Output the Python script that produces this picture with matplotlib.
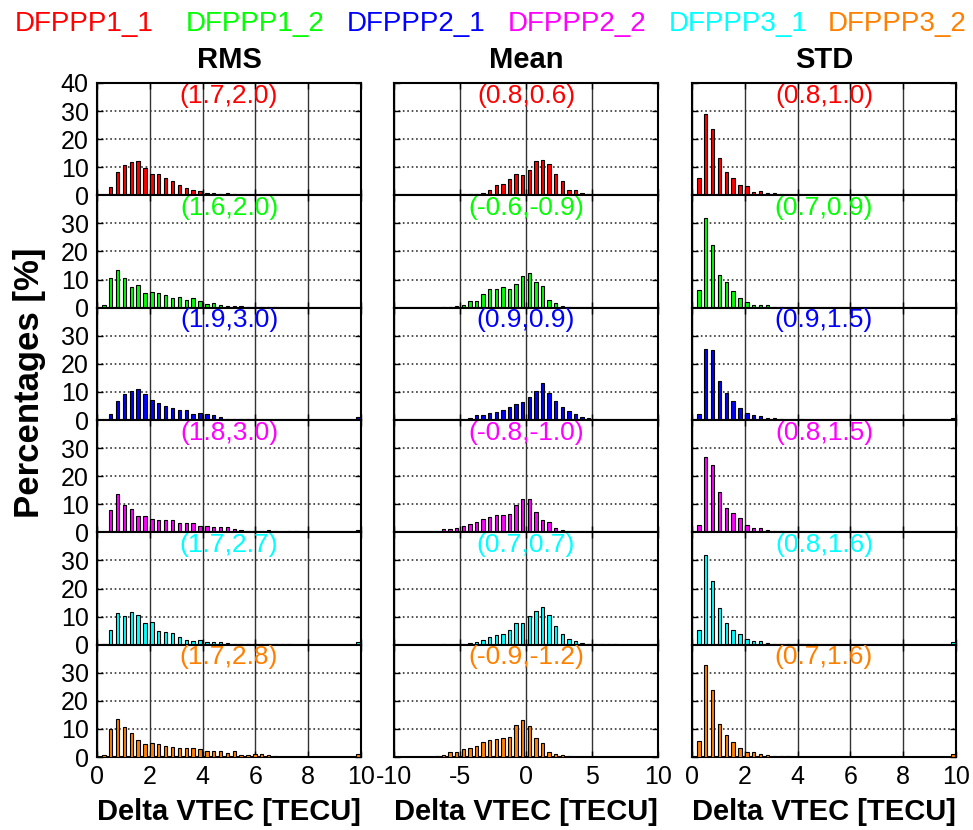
import matplotlib
matplotlib.use("Agg")
import matplotlib.pyplot as plt
import numpy as np

plt.rcParams.update({
    "font.family": ["Liberation Sans", "DejaVu Sans"],
    "axes.unicode_minus": False,
    "axes.linewidth": 1.5,
    "xtick.direction": "in",
    "ytick.direction": "in",
    "xtick.top": True,
    "ytick.right": True,
    "xtick.major.size": 4,
    "ytick.major.size": 4,
})

# ---------------------------------------------------------------------------
# Data (percent per bin)
# ---------------------------------------------------------------------------
solutions = ["DFPPP1_1", "DFPPP1_2", "DFPPP2_1", "DFPPP2_2", "DFPPP3_1", "DFPPP3_2"]
colors = ["#ff0000", "#00ff00", "#0000ff", "#ff00ff", "#00ffff", "#ff8000"]
panel_titles = ["RMS", "Mean", "STD"]

# RMS histogram, bins of 0.26 TECU starting at 0.26
rms_11 = [0, 3.1, 8.2, 10.9, 11.7, 12.1, 9.6, 7.7, 7.7, 6.2, 5.1, 3.6, 2.5, 1.8,
          1.4, 0.9, 0.9, 0.6, 0.7, 0.35, 0.2, 0.2, 0.2, 0.1, 0.1, 0.1, 0.1, 0.1]
rms_12 = [0.8, 10.5, 13.4, 10.5, 7.5, 8.0, 5.1, 5.6, 5.3, 4.5, 3.5, 3.8, 2.6, 3.4,
          2.4, 1.2, 1.5, 0.9, 0.6, 0.6, 0.6, 0.2, 0.2, 0.1, 0.1, 0.1]
rms_21 = [0, 2.2, 6.7, 9.1, 10.3, 11.0, 9.3, 7.2, 6.0, 5.0, 4.3, 3.6, 3.6, 2.2,
          2.5, 2.1, 1.8, 1.2, 0.5, 0.5, 0.5, 0.5, 0.2, 0.1, 0.15, 0.1, 0.1, 0.1,
          0.1, 0.1, 0.1, 0.1, 0.1, 0.1, 0.1, 0.1, 0.1]
rms_22 = [0, 8.0, 13.7, 9.6, 8.4, 5.7, 5.7, 4.7, 4.5, 4.3, 4.3, 3.2, 3.2, 3.2,
          2.4, 2.1, 1.9, 1.8, 1.8, 1.3, 0.8, 0.6, 0.6, 0.6, 1.0, 0.5, 0.2, 0.5,
          0.5, 0.1, 0.1, 0.1, 0.2]
rms_31 = [0.1, 5.3, 11.1, 10.3, 11.8, 10.4, 7.8, 7.9, 4.9, 4.5, 4.1, 2.8, 1.8,
          1.3, 1.7, 1.1, 1.1, 0.8, 0.5, 0.4, 0.4, 0.3, 0.1, 0.1, 0.1, 0.1, 0.1, 0.1]
rms_32 = [0.8, 9.9, 13.4, 10.7, 8.6, 6.2, 4.7, 5.1, 4.5, 4.0, 3.7, 3.1, 3.1, 3.3,
          3.0, 2.0, 2.2, 2.0, 1.5, 2.0, 0.8, 0.8, 1.1, 1.1, 0.6, 0.3, 0.1, 0.1,
          0.1, 0.1, 0.1, 0.1]
rms_edge = [0, 0, 1.1, 1.0, 1.0, 1.2]

# Mean histogram, bins of 0.5 TECU, first listed bin centred at -7.75
mean_11 = [0, 0, 0, 0.05, 0.1, 0.1, 0.3, 0.3, 0.4, 0.9, 2.0, 3.7, 3.9, 5.8, 7.5,
           7.2, 8.9, 12.4, 12.7, 11.0, 7.5, 5.0, 1.9, 1.9, 0.8, 0.3, 0.2, 0.1]
mean_12 = [0, 0, 0, 0.1, 0.1, 0.6, 0.8, 2.5, 2.5, 4.9, 6.5, 6.5, 7.5, 6.6, 8.6,
           11.4, 12.5, 9.3, 7.6, 2.7, 1.8, 0.6, 0.1]
mean_21 = [0, 0, 0, 0.1, 0.1, 0.4, 0.1, 0.7, 1.7, 1.8, 2.4, 3.0, 3.7, 4.5, 5.8,
           6.4, 8.3, 10.3, 13.3, 9.6, 6.7, 4.7, 3.2, 2.2, 1.2, 0.6, 0.4, 0.1, 0.1,
           0.05, 0.05, 0.05]
mean_22 = [0, 0.1, 0.2, 1.1, 1.1, 1.5, 2.1, 3.1, 3.8, 4.6, 5.3, 6.0, 6.0, 6.6,
           9.8, 11.7, 12.0, 7.3, 4.4, 3.6, 1.5, 0.8, 0.1]
mean_31 = [0, 0, 0, 0.1, 0, 0.1, 0, 0.6, 0.8, 1.8, 2.7, 3.4, 3.7, 5.1, 7.6, 7.6,
           10.1, 12.1, 13.4, 10.4, 6.6, 3.8, 2.0, 1.4, 0.7, 0.2, 0.2, 0.1, 0.1, 0.1]
mean_32 = [0.1, 0.1, 0.2, 0.7, 1.7, 1.9, 2.8, 3.3, 3.9, 5.2, 6.0, 6.3, 6.9, 7.2,
           11.4, 13.1, 10.9, 6.6, 4.9, 1.9, 1.2, 0.6, 0.3]
mean_edge = [0, 0, 0.4, 0, 0.2, 0]

# STD histogram, same bins as RMS
std_11 = [6.2, 28.8, 23.7, 13.3, 8.4, 6.0, 3.6, 3.2, 1.1, 1.4, 0.7, 0.7, 0.3,
          0.1, 0.1, 0.1, 0.1, 0.1, 0.1]
std_12 = [6.3, 32.1, 22.4, 11.5, 9.1, 5.8, 3.3, 2.0, 0.9, 0.9, 0.9, 0.3, 0.1]
std_21 = [2.1, 25.2, 24.9, 14.0, 9.5, 6.7, 4.1, 2.5, 1.8, 1.4, 0.7, 0.6, 0.2,
          0.1, 0.1, 0.3, 0.1, 0.1, 0.1, 0.1]
std_22 = [2.7, 26.9, 24.1, 14.2, 8.5, 7.0, 5.0, 2.6, 1.4, 1.4, 0.8, 0.6, 0.6, 0.1]
std_31 = [5.3, 32.1, 22.6, 12.9, 7.7, 5.3, 3.8, 2.1, 1.4, 1.2, 0.6, 0.2, 0.2,
          0.3, 0.1, 0.1, 0.1, 0.1]
std_32 = [5.7, 32.9, 23.7, 11.8, 8.0, 5.4, 3.3, 1.9, 1.7, 1.2, 0.7, 0.4, 0.4,
          0.3, 0.1]
std_edge = [0, 0, 0.7, 0, 0.9, 1.2]

# per-panel annotations
rms_labels = ["(1.7,2.0)", "(1.6,2.0)", "(1.9,3.0)", "(1.8,3.0)", "(1.7,2.7)", "(1.7,2.8)"]
mean_labels = ["(0.8,0.6)", "(-0.6,-0.9)", "(0.9,0.9)", "(-0.8,-1.0)", "(0.7,0.7)", "(-0.9,-1.2)"]
std_labels = ["(0.8,1.0)", "(0.7,0.9)", "(0.9,1.5)", "(0.8,1.5)", "(0.8,1.6)", "(0.7,1.6)"]

RMS_STEP = 0.26
N_RMS = 38
MEAN_STEP = 0.5
N_MEAN = 40          # -9.75 ... 9.75
MEAN_OFFSET = 4      # index of -7.75 in the full mean bin list


def padded(vals, n, offset=0, edge=0.0):
    out = np.zeros(n)
    out[offset:offset + len(vals)] = vals
    if edge:
        out[-1] = edge
    return out


rms_x = RMS_STEP * np.arange(1, N_RMS + 1)
mean_x = -9.75 + MEAN_STEP * np.arange(N_MEAN)

rms_series = [rms_11, rms_12, rms_21, rms_22, rms_31, rms_32]
mean_series = [mean_11, mean_12, mean_21, mean_22, mean_31, mean_32]
std_series = [std_11, std_12, std_21, std_22, std_31, std_32]

panels = [
    (rms_series, rms_edge, rms_labels),
    (mean_series, mean_edge, mean_labels),
    (std_series, std_edge, std_labels),
]

# ---------------------------------------------------------------------------
# Layout (pixel positions of the reference, 973 x 830)
# ---------------------------------------------------------------------------
W, H = 973.0, 830.0
col_left = [97, 394, 692]
col_w = 264
top_px, bot_px = 83, 757
row_h = (bot_px - top_px) / 6.0

fig = plt.figure(figsize=(W / 100, H / 100), dpi=100)

for c, (series, edges, labels) in enumerate(panels):
    for r in range(6):
        y0 = H - (top_px + (r + 1) * row_h)
        ax = fig.add_axes([col_left[c] / W, y0 / H, col_w / W, row_h / H])
        if c == 1:
            vals = padded(series[r], N_MEAN, MEAN_OFFSET, edges[r])
            ax.bar(mean_x, vals, width=0.25, color=colors[r],
                   edgecolor="black", linewidth=0.8, zorder=3)
            ax.set_xlim(-10, 10)
            ax.set_xticks([-10, -5, 0, 5, 10])
        else:
            vals = padded(series[r], N_RMS, 0, edges[r])
            ax.bar(rms_x, vals, width=0.13, color=colors[r],
                   edgecolor="black", linewidth=0.8, zorder=3)
            ax.set_xlim(0, 10)
            ax.set_xticks([0, 2, 4, 6, 8, 10])
        ax.set_ylim(0, 40)
        ax.set_yticks([0, 10, 20, 30, 40] if r == 0 else [0, 10, 20, 30])
        ax.set_axisbelow(True)
        ax.xaxis.grid(True, color="0.2", linewidth=1.0, linestyle="-")
        ax.yaxis.grid(True, color="0.2", linewidth=1.2, linestyle=":")
        ax.tick_params(labelsize=18, pad=6, width=1.0)
        if c != 0:
            ax.tick_params(labelleft=False)
        if r != 5:
            ax.tick_params(labelbottom=False)
        ax.text(0.5, 0.995, labels[r], transform=ax.transAxes, ha="center",
                va="top", fontsize=19, color=colors[r], zorder=5)

    xc = (col_left[c] + col_w / 2) / W
    fig.text(xc, 1 - 60 / H, panel_titles[c], ha="center", va="center",
             fontsize=21, fontweight="bold")
    fig.text(xc, 1 - 812 / H, "Delta VTEC [TECU]", ha="center", va="center",
             fontsize=21, fontweight="bold")

# solution names across the top
name_x = [84, 255, 416, 577, 738, 897]
for name, col, xp in zip(solutions, colors, name_x):
    fig.text(xp / W, 1 - 24 / H, name, ha="center", va="center",
             fontsize=20, color=col)

fig.text(30 / W, 1 - 383 / H, "Percentages [%]", rotation=90, ha="center",
         va="center", fontsize=25, fontweight="bold")

fig.savefig("out.png", dpi=100)
